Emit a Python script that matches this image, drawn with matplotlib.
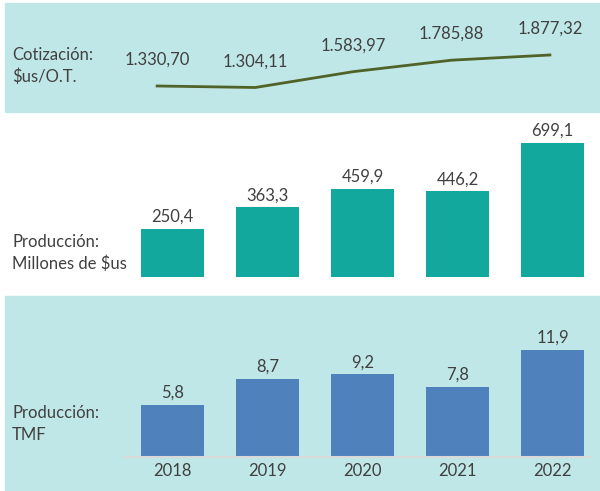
import matplotlib.pyplot as plt
from matplotlib.patches import Rectangle

anios = ["2018", "2019", "2020", "2021", "2022"]
cotizacion = [1330.70, 1304.11, 1583.97, 1785.88, 1877.32]
produccion_usd = [250.4, 363.3, 459.9, 446.2, 699.1]
produccion_tmf = [5.8, 8.7, 9.2, 7.8, 11.9]

plt.rcParams['font.family'] = ['Lato', 'DejaVu Sans']
gris = '#404040'
fondo = '#C0E7E7'
fs = 12

W, H = 600, 491
fig = plt.figure(figsize=(6, 4.91), dpi=100)


def caja(x0, y0, x1, y1):
    # pixeles desde arriba a coords de figura
    return [x0 / W, 1 - y1 / H, (x1 - x0) / W, (y1 - y0) / H]


def fmt_miles(v):
    s = f"{v:,.2f}"
    return s.replace(',', 'X').replace('.', ',').replace('X', '.')


def fmt_dec(v):
    return f"{v:.1f}".replace('.', ',')


# paneles de fondo
b = caja(5, 3, 600, 112)
fig.patches.append(Rectangle((b[0], b[1]), b[2], b[3], transform=fig.transFigure,
                             color=fondo, zorder=-1))
b = caja(5, 296, 600, 491)
fig.patches.append(Rectangle((b[0], b[1]), b[2], b[3], transform=fig.transFigure,
                             color=fondo, zorder=-1))

x = list(range(len(anios)))

# cotizacion
ax1 = fig.add_axes(caja(108, 3, 599, 112))
ax1.plot(x, cotizacion, color='#4F6228', lw=2)
for i, v in zip(x, cotizacion):
    ax1.annotate(fmt_miles(v), (i, v), xytext=(0, 13), textcoords='offset points',
                 ha='center', va='bottom', fontsize=fs, color=gris)
ax1.set_xlim(-0.5, 4.5)
ax1.set_ylim(872, 2794)
ax1.axis('off')

# produccion millones
ax2 = fig.add_axes(caja(125, 112, 599, 277))
barras = ax2.bar(x, produccion_usd, width=0.66, color='#13A89E')
ax2.bar_label(barras, labels=[fmt_dec(v) for v in produccion_usd], padding=3,
              fontsize=fs, color=gris)
ax2.set_xlim(-0.5, 4.49)
ax2.set_ylim(0, 861)
ax2.axis('off')

# produccion TMF
ax3 = fig.add_axes(caja(125, 296, 599, 457))
barras = ax3.bar(x, produccion_tmf, width=0.66, color='#4F81BD')
ax3.bar_label(barras, labels=[fmt_dec(v) for v in produccion_tmf], padding=3,
              fontsize=fs, color=gris)
ax3.set_xlim(-0.5, 4.49)
ax3.set_ylim(0, 17.95)
ax3.set_facecolor('none')
for s in ['top', 'right', 'left']:
    ax3.spines[s].set_visible(False)
ax3.spines['bottom'].set_color('#D9D9D9')
ax3.spines['bottom'].set_linewidth(1.5)
ax3.spines['bottom'].set_bounds(-0.5, 4.4)
ax3.set_yticks([])
ax3.set_xticks(x)
ax3.set_xticklabels(anios, fontsize=fs, color=gris)
ax3.tick_params(axis='x', length=0, pad=4)

# etiquetas de la izquierda
fig.text(12 / W, 1 - 66 / H, "Cotización:\n$us/O.T.", fontsize=fs, color=gris,
         va='center', linespacing=1.45)
fig.text(12 / W, 1 - 253 / H, "Producción:\nMillones de $us", fontsize=fs,
         color=gris, va='center', linespacing=1.45)
fig.text(12 / W, 1 - 424 / H, "Producción:\nTMF", fontsize=fs, color=gris,
         va='center', linespacing=1.45)

fig.savefig('out.png', dpi=100)
